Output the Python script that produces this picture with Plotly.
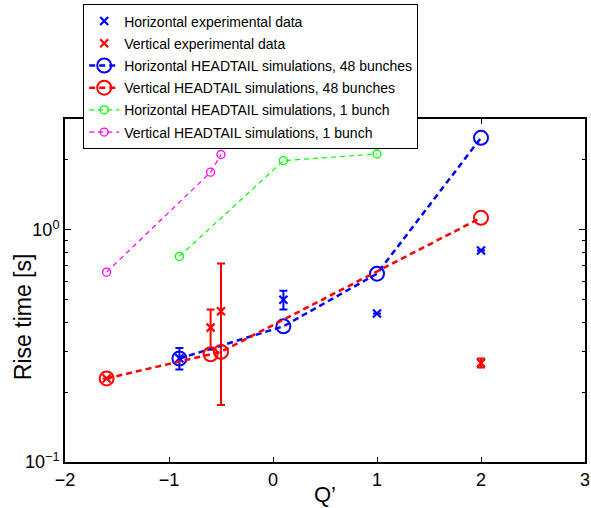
import plotly.graph_objects as go

# Horizontal experimental data
q_h_exp = [-0.9, 0.1, 1.0, 2.0]
t_h_exp = [0.28, 0.50, 0.436, 0.815]
e_h_exp = [0.03, 0.046, 0.0, 0.0]

# Vertical experimental data
q_v_exp = [-1.6, -0.6, -0.5, 2.0]
t_v_exp = [0.229, 0.379, 0.446, 0.267]
e_v_exp = [0.0, 0.075, 0.27, 0.012]

# HEADTAIL simulations, 48 bunches
q_h_48 = [-0.9, 0.1, 1.0, 2.0]
t_h_48 = [0.279, 0.384, 0.647, 2.49]
q_v_48 = [-1.6, -0.6, -0.5, 2.0]
t_v_48 = [0.229, 0.291, 0.298, 1.126]

# HEADTAIL simulations, 1 bunch
q_h_1 = [-0.9, 0.1, 1.0]
t_h_1 = [0.768, 1.985, 2.12]
q_v_1 = [-1.6, -0.6, -0.5]
t_v_1 = [0.657, 1.77, 2.11]

x_ticks = [-2, -1, 0, 1, 2, 3]
y_ticks = [0.1, 1]
y_ticktext = ["10<sup>−1</sup>", "10<sup>0</sup>"]
y_minor = [0.2, 0.3, 0.4, 0.5, 0.6, 0.7, 0.8, 0.9, 2, 3]

BLUE = "#0000ff"
RED = "#ff0000"
GREEN = "#00ff00"
MAGENTA = "#ff00ff"
FONT = "Liberation Sans, Arial, sans-serif"

fig = go.Figure()

fig.add_trace(go.Scatter(
    x=q_h_exp, y=t_h_exp, mode="markers", name="Horizontal experimental data",
    legendgroup="a",
    marker=dict(symbol="x-thin", size=8, color=BLUE, line=dict(color=BLUE, width=2.2)),
    error_y=dict(type="data", array=e_h_exp, color=BLUE, thickness=2, width=4),
))
fig.add_trace(go.Scatter(
    x=q_v_exp, y=t_v_exp, mode="markers", name="Vertical experimental data",
    legendgroup="b",
    marker=dict(symbol="x-thin", size=8, color=RED, line=dict(color=RED, width=2.2)),
    error_y=dict(type="data", array=e_v_exp, color=RED, thickness=2, width=4),
))
fig.add_trace(go.Scatter(
    x=q_h_48, y=t_h_48, mode="lines+markers", name="Horizontal HEADTAIL simulations, 48 bunches",
    legendgroup="c",
    line=dict(color=BLUE, width=2.5, dash="6px,4px"),
    marker=dict(symbol="circle-open", size=14, color=BLUE, line=dict(color=BLUE, width=2)),
))
fig.add_trace(go.Scatter(
    x=q_v_48, y=t_v_48, mode="lines+markers", name="Vertical HEADTAIL simulations, 48 bunches",
    legendgroup="d",
    line=dict(color=RED, width=2.5, dash="6px,4px"),
    marker=dict(symbol="circle-open", size=14, color=RED, line=dict(color=RED, width=2)),
))
fig.add_trace(go.Scatter(
    x=q_h_1, y=t_h_1, mode="lines+markers", name="Horizontal HEADTAIL simulations, 1 bunch",
    legendgroup="e",
    line=dict(color=GREEN, width=1.2, dash="5px,4px"),
    marker=dict(symbol="circle-open", size=8, color=GREEN, line=dict(color=GREEN, width=1.3)),
))
fig.add_trace(go.Scatter(
    x=q_v_1, y=t_v_1, mode="lines+markers", name="Vertical HEADTAIL simulations, 1 bunch",
    legendgroup="f",
    line=dict(color=MAGENTA, width=1.2, dash="5px,4px"),
    marker=dict(symbol="circle-open", size=8, color=MAGENTA, line=dict(color=MAGENTA, width=1.3)),
))

fig.update_layout(
    width=591, height=508,
    margin=dict(l=64.5, r=5.5, t=117.7, b=46),
    paper_bgcolor="white", plot_bgcolor="white",
    font=dict(family=FONT, color="black"),
    showlegend=True,
    legend=dict(
        x=0.035, y=1.33, xanchor="left", yanchor="top",
        bgcolor="white", bordercolor="black", borderwidth=1,
        font=dict(family=FONT, size=14, color="black"),
        tracegroupgap=1, traceorder="grouped",
    ),
    annotations=[
        dict(text="Rise time [s]", xref="paper", yref="paper", x=-0.0816, y=0.424,
             xanchor="center", yanchor="middle", textangle=-90, showarrow=False,
             font=dict(family=FONT, size=23, color="black")),
        dict(text="Q’", xref="paper", yref="paper", x=0.5, y=-0.094,
             xanchor="center", yanchor="middle", showarrow=False,
             font=dict(family=FONT, size=22, color="black")),
    ],
)

fig.update_xaxes(
    range=[-2, 3], tickvals=x_ticks, ticks="inside", ticklen=5, tickwidth=1,
    tickcolor="black", showline=True, linecolor="black", linewidth=2, mirror="ticks",
    showgrid=False, zeroline=False, automargin=False,
    tickfont=dict(family=FONT, size=18),
)
fig.update_yaxes(
    type="log", range=[-1, 0.4771], tickvals=y_ticks, ticktext=y_ticktext,
    ticks="inside", ticklen=6, tickwidth=1, tickcolor="black",
    showline=True, linecolor="black", linewidth=2, mirror="ticks",
    showgrid=False, zeroline=False, automargin=False,
    minor=dict(tickvals=y_minor, ticks="inside", ticklen=3, tickcolor="black", showgrid=False),
    tickfont=dict(family=FONT, size=18),
)

fig.write_html("out.html", config={"displayModeBar": False},
               post_script="document.body.style.margin='0';")
